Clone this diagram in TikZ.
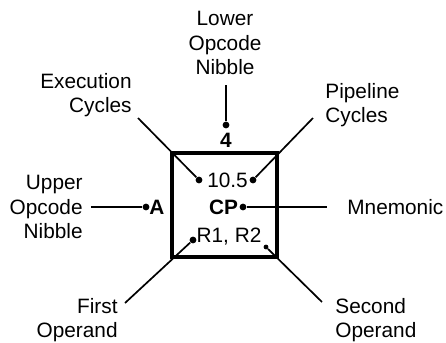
\documentclass[tikz,border=0pt]{standalone}
\usepackage{fontspec}
\setmainfont{Liberation Sans}
\usetikzlibrary{positioning}
\newcommand{\lblfont}{\fontsize{10.4}{12.2}\selectfont}

\begin{document}
\begin{tikzpicture}[x=0.5pt, y=-0.5pt, font=\lblfont,
  lbl/.style={inner sep=0pt, align=#1},
  lbl/.default=center,
  field/.style={inner sep=0pt},
  key/.style={inner sep=0pt, font=\lblfont\bfseries},
  lead/.style={line width=0.85pt},
  dot/.style={circle, fill, inner sep=0pt, minimum size=#1},
  dot/.default=3.4pt]
  \useasboundingbox (0,0) rectangle (446,343);
  % instruction box
  \node[draw, line width=1.75pt, minimum width=52.5pt, minimum height=52pt, inner sep=0pt] (box) at (224.5,205) {};
  \node[key] (nib4) at (226,140) {4};
  \node[field] (cyc) at (227.5,180) {10.5};
  \node[key] (mnem) at (223.5,207) {CP};
  \node[key] (nibA) at (157,207) {A};
  \node[field] (ops) at (229,237) {R1, R2};
  % dots
  \node[dot] (d4) at (226,125) {};
  \node[dot] (dexe) at (199,180) {};
  \node[dot] (dpipe) at (253,180) {};
  \node[dot] (dA) at (146,207) {};
  \node[dot] (dCP) at (243,207) {};
  \node[dot] (dop1) at (193,240) {};
  \node[dot=2.4pt] (dop2) at (266,247) {};
  % labels
  \node[lbl] (lower) at (225,43) {Lower\\Opcode\\Nibble};
  \node[lbl=right, anchor=east] (exe) at (132,95) {Execution\\Cycles};
  \node[lbl=left, anchor=west] (pipe) at (325,105) {Pipeline\\Cycles};
  \node[lbl=right, anchor=east] (upper) at (83,207) {Upper\\Opcode\\Nibble};
  \node[lbl=left, anchor=west] (mnemo) at (347,207) {Mnemonic};
  \node[lbl=right, anchor=east] (first) at (118,320) {First\\Operand};
  \node[lbl=left, anchor=west] (second) at (335,320) {Second\\Operand};
  % leader ends
  \coordinate (e4) at (226,85);
  \coordinate (eexe) at (138,118);
  \coordinate (epipe) at (313,118);
  \coordinate (eA) at (91,207);
  \coordinate (eCP) at (327,207);
  \coordinate (eop1) at (125,303);
  \coordinate (eop2) at (322,302);
  \draw[lead] (e4) -- (d4);
  \draw[lead] (eexe) -- (dexe);
  \draw[lead] (epipe) -- (dpipe);
  \draw[lead] (eA) -- (dA);
  \draw[lead] (eCP) -- (dCP);
  \draw[lead] (eop1) -- (dop1);
  \draw[lead] (eop2) -- (dop2);
\end{tikzpicture}
\end{document}
